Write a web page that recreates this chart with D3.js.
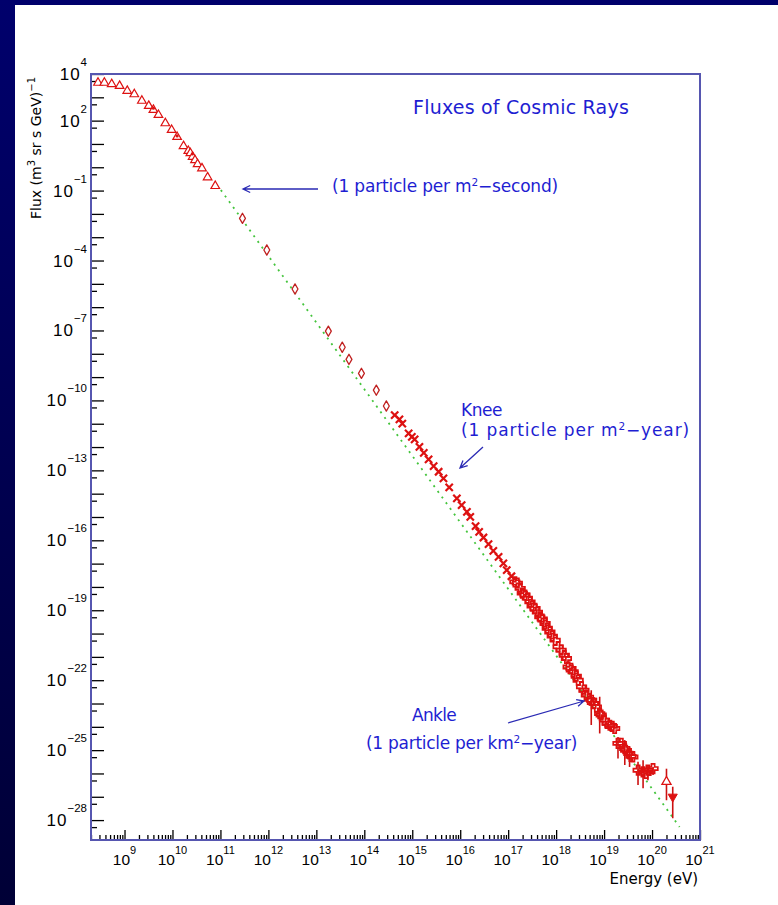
<!DOCTYPE html>
<html>
<head>
<meta charset="utf-8">
<script src="https://cdn.jsdelivr.net/npm/d3@7"></script>
<style>
  html, body { margin: 0; padding: 0; background: #000050; }
  svg { display: block; }
</style>
</head>
<body>
<svg id="chart" width="778" height="905"></svg>
<script>
// Flujo de rayos cósmicos: escala log-log
(function () {
  // --- rangos de los ejes ---
  const energyDomain = [2e8, 1e21];        // eV
  const fluxDomain = [1e4, 1.4e-29];       // (m^2 sr s GeV)^-1

  // --- etiquetas de los ejes (exponentes de 10) ---
  const xLabelExps = [9, 10, 11, 12, 13, 14, 15, 16, 17, 18, 19, 20, 21];
  const yLabelExps = [4, 2, -1, -4, -7, -10, -13, -16, -19, -22, -25, -28];
  const yDecadeExps = d3.range(-28, 5);

  // --- baja energía: triángulos abiertos ---
  const lowE = [2.8e8, 3.8e8, 5.4e8, 7.9e8, 1.14e9, 1.6e9, 2.3e9, 3.2e9, 4.0e9, 5.1e9, 7.1e9,
                9.6e9, 1.25e10, 1.7e10, 2.14e10, 2.36e10, 2.63e10, 2.95e10, 3.34e10, 4.12e10, 5.4e10, 7.8e10];
  const lowF = [4.2e3, 4.2e3, 3.7e3, 3.1e3, 1.9e3, 1.35e3, 710, 430, 290, 175, 77,
                40, 20, 8.1, 5.0, 4.0, 2.8, 2.0, 1.35, 0.9, 0.37, 0.157];
  const lowDotE = [4.0e9, 1.25e10, 2.6e10];
  const lowDotF = [340, 22, 3.7];

  // --- medidas directas: rombos abiertos ---
  const midE = [2.88e11, 9.27e11, 3.59e12, 1.78e13, 3.47e13, 4.79e13, 8.71e13, 1.78e14, 2.88e14];
  const midF = [6.46e-3, 2.82e-4, 6.03e-6, 9.33e-8, 1.91e-8, 5.75e-9, 1.45e-9, 2.75e-10, 5.75e-11];

  // --- región de la rodilla: cruces ---
  const kneeE = [4.3e14, 5.4e14, 6.2e14, 8.4e14, 9.8e14, 1.12e15, 1.41e15, 1.74e15, 2.19e15, 2.79e15,
                 3.55e15, 4.47e15, 5.89e15, 8.51e15, 1.07e16, 1.38e16, 1.62e16, 2.09e16, 2.48e16, 3.05e16,
                 3.89e16, 4.9e16, 6.31e16, 7.94e16, 9.33e16, 1.17e17];
  const kneeF = [2.34e-11, 1.55e-11, 1.02e-11, 3.89e-12, 2.75e-12, 2.14e-12, 1.02e-12, 5.62e-13, 2.95e-13,
                 1.51e-13, 8.7e-14, 4.57e-14, 1.86e-14, 6.3e-15, 3.2e-15, 1.66e-15, 1.02e-15, 4.07e-16, 2.29e-16,
                 1.32e-16, 6.9e-17, 3.55e-17, 1.95e-17, 1.02e-17, 5.25e-18, 2.88e-18];

  // --- región del tobillo: cruces abiertas ---
  const highE = [1.38e17, 1.55e17, 1.78e17, 1.97e17, 2.24e17, 2.51e17, 2.85e17, 3.16e17, 3.63e17, 4.07e17,
                 4.57e17, 5.13e17, 5.89e17, 6.53e17, 7.41e17, 8.3e17, 9.55e17, 1.10e18, 1.27e18, 1.48e18,
                 1.64e18, 1.78e18, 2.04e18, 2.26e18, 2.63e18, 2.88e18, 3.39e18, 3.8e18, 4.27e18, 4.9e18,
                 5.5e18, 6.2e18, 6.9e18, 8.1e18, 8.7e18, 1.02e19, 1.15e19, 1.32e19, 1.48e19, 1.66e19,
                 1.95e19, 2.29e19, 2.69e19, 2.82e19, 3.39e19, 3.63e19, 3.98e19, 5.13e19, 6.46e19, 7.5e19,
                 8.2e19, 1.05e20];
  const highF = [1.66e-18, 1.45e-18, 8.7e-19, 5.4e-19, 4.5e-19, 3.3e-19, 2.3e-19, 1.5e-19, 1.2e-19, 8.3e-20,
                 5.2e-20, 4.2e-20, 2.7e-20, 1.7e-20, 1.17e-20, 7.8e-21, 5.2e-21, 2.7e-21, 1.95e-21, 1.17e-21,
                 8.5e-22, 3.7e-22, 3.2e-22, 2.3e-22, 1.48e-22, 1.0e-22, 5.2e-23, 3.7e-23, 2.3e-23, 1.5e-23,
                 1.38e-23, 1.02e-23, 7.2e-24, 3.7e-24, 3.2e-24, 1.95e-24, 1.4e-24, 1.17e-24, 1.05e-24, 8.5e-25,
                 1.95e-25, 1.95e-25, 1.17e-25, 9.8e-26, 7.2e-26, 5.4e-26, 5.1e-26, 1.38e-26, 1.17e-26, 1.0e-26,
                 1.38e-26, 1.62e-26];

  // --- barras de error (alta energía) ---
  const errE  = [5.4e18, 8.1e18, 1.95e19, 2.7e19, 3.4e19, 5.1e19, 6.5e19, 8.2e19, 1.05e20, 2.0e20, 2.7e20];
  const errHi = [3.7e-23, 1.95e-23, 3.7e-25, 2.7e-25, 1.4e-25, 3.2e-26, 3.7e-26, 2.3e-26, 1.9e-26, 1.6e-26, 2.7e-27];
  const errLo = [1.2e-24, 5.2e-25, 4.4e-26, 2.3e-26, 1.9e-26, 3.2e-27, 2.3e-27, 5.1e-27, 8.5e-27, 7.1e-28, 1.2e-28];

  // --- puntos de máxima energía ---
  const topUpE = [2.0e20],   topUpF = [4.4e-27];
  const topDownE = [2.7e20], topDownF = [1.0e-27];

  // --- ley de potencias de referencia (verde punteada) ---
  const fitE = [1.02e11, 3.75e20];
  const fitF = [0.106, 5.1e-29];

  const svg = d3.select('#chart');
  const W = 778, H = 905;
  const frame = { left: 91, right: 700, top: 74, bottom: 840 };
  const RED = '#dd1111', BLUE = '#1e1ed2', FRAME = '#5656b0';
  const zip = (a, b) => a.map((v, i) => [v, b[i]]);

  // fondo azul con el panel blanco
  const defs = svg.append('defs');
  const grad = defs.append('linearGradient').attr('id', 'bg').attr('x1', 0).attr('x2', 0).attr('y1', 0).attr('y2', 1);
  grad.append('stop').attr('offset', '0%').attr('stop-color', '#00006c');
  grad.append('stop').attr('offset', '100%').attr('stop-color', '#000036');
  svg.append('rect').attr('width', W).attr('height', H).attr('fill', 'url(#bg)');
  svg.append('rect').attr('x', 15).attr('y', 5).attr('width', W - 15).attr('height', H - 5).attr('fill', '#fff');

  const x = d3.scaleLog().domain(energyDomain).range([frame.left, frame.right]);
  const y = d3.scaleLog().domain(fluxDomain).range([frame.top, frame.bottom]);

  // ticks (hacia dentro, estilo ROOT)
  const xMajor = xLabelExps.map(e => Math.pow(10, e));
  const xMinor = x.ticks(100).filter(v => Math.abs(Math.log10(v) - Math.round(Math.log10(v))) > 1e-6);
  const yMajor = yDecadeExps.map(e => Math.pow(10, e));
  const yMinor = yDecadeExps.map(e => 5 * Math.pow(10, e - 1)).filter(v => v > fluxDomain[1]);

  const tickStyle = g => {
    g.select('.domain').remove();
    g.selectAll('line').attr('stroke', '#000').attr('stroke-width', 1.3);
  };
  svg.append('g').attr('transform', `translate(0,${frame.bottom})`)
    .call(d3.axisBottom(x).tickValues(xMinor).tickSize(-5).tickSizeOuter(0).tickFormat('')).call(tickStyle);
  svg.append('g').attr('transform', `translate(0,${frame.bottom})`)
    .call(d3.axisBottom(x).tickValues(xMajor).tickSize(-10).tickSizeOuter(0).tickFormat('')).call(tickStyle);
  svg.append('g').attr('transform', `translate(${frame.left},0)`)
    .call(d3.axisLeft(y).tickValues(yMinor).tickSize(-6).tickSizeOuter(0).tickFormat('')).call(tickStyle);
  svg.append('g').attr('transform', `translate(${frame.left},0)`)
    .call(d3.axisLeft(y).tickValues(yMajor).tickSize(-13).tickSizeOuter(0).tickFormat('')).call(tickStyle);

  const expTxt = e => (e < 0 ? '\u2212' + (-e) : String(e));
  const lblFont = '"Liberation Sans", Arial, sans-serif';

  // etiquetas eje x
  const xl = svg.append('g').attr('font-family', lblFont).attr('fill', '#000');
  xLabelExps.forEach(e => {
    const t = xl.append('text').attr('x', x(Math.pow(10, e))).attr('y', 865)
      .attr('text-anchor', 'middle').attr('font-size', 15.5);
    t.append('tspan').text('10');
    t.append('tspan').attr('dy', -11).attr('font-size', 11).text(expTxt(e));
  });

  // etiquetas eje y
  const yl = svg.append('g').attr('font-family', lblFont).attr('fill', '#000');
  yLabelExps.forEach(e => {
    const t = yl.append('text').attr('x', 87).attr('y', y(Math.pow(10, e)) + 6)
      .attr('text-anchor', 'end').attr('font-size', 17);
    t.append('tspan').attr('letter-spacing', 1).text('10');
    t.append('tspan').attr('dy', -14).attr('font-size', 11.5).text(expTxt(e));
  });

  // títulos de ejes
  const annFont = '"DejaVu Sans", Verdana, sans-serif';
  const yt = svg.append('text').attr('transform', 'translate(41,77) rotate(-90)')
    .attr('text-anchor', 'end').attr('font-family', annFont).attr('font-size', 14).attr('fill', '#000');
  yt.append('tspan').text('Flux (m');
  yt.append('tspan').attr('dy', -6).attr('font-size', 10).text('3');
  yt.append('tspan').attr('dy', 6).text(' sr s GeV)');
  yt.append('tspan').attr('dy', -6).attr('font-size', 10).text('\u22121');

  svg.append('text').attr('x', 698).attr('y', 884).attr('text-anchor', 'end')
    .attr('font-family', annFont).attr('font-size', 15).attr('fill', '#000').text('Energy (eV)');

  // ley de potencias
  const line = d3.line().x(d => x(d[0])).y(d => y(d[1]));
  svg.append('path').datum(zip(fitE, fitF)).attr('d', line)
    .attr('fill', 'none').attr('stroke', '#44c43c').attr('stroke-width', 1.8)
    .attr('stroke-dasharray', '2,5');

  const sym = (type, size) => d3.symbol().type(type).size(size)();
  const plot = svg.append('g');

  // triángulos
  plot.selectAll('path.low').data(zip(lowE, lowF)).join('path')
    .attr('transform', d => `translate(${x(d[0])},${y(d[1])})`)
    .attr('d', sym(d3.symbolTriangle, 32))
    .attr('fill', '#fff').attr('stroke', RED).attr('stroke-width', 1.2);
  plot.selectAll('circle.lowdot').data(zip(lowDotE, lowDotF)).join('circle')
    .attr('cx', d => x(d[0])).attr('cy', d => y(d[1])).attr('r', 1.6).attr('fill', RED);

  // rombos
  plot.selectAll('path.mid').data(zip(midE, midF)).join('path')
    .attr('transform', d => `translate(${x(d[0])},${y(d[1])})`)
    .attr('d', sym(d3.symbolDiamond, 30))
    .attr('fill', '#fff').attr('stroke', '#c02020').attr('stroke-width', 1.3)
    .attr('stroke-linejoin', 'round');

  // barras de error
  plot.selectAll('line.err').data(errE.map((e, i) => [e, errLo[i], errHi[i]])).join('line')
    .attr('x1', d => x(d[0])).attr('x2', d => x(d[0]))
    .attr('y1', d => y(d[1])).attr('y2', d => y(d[2]))
    .attr('stroke', '#cc1111').attr('stroke-width', 1.6);

  // rodilla
  plot.selectAll('path.knee').data(zip(kneeE, kneeF)).join('path')
    .attr('transform', d => `translate(${x(d[0])},${y(d[1])})`)
    .attr('d', sym(d3.symbolTimes, 36))
    .attr('fill', 'none').attr('stroke', RED).attr('stroke-width', 2.2);

  // tobillo
  plot.selectAll('path.high').data(zip(highE, highF)).join('path')
    .attr('transform', d => `translate(${x(d[0])},${y(d[1])})`)
    .attr('d', sym(d3.symbolCross, 50))
    .attr('fill', 'none').attr('stroke', RED).attr('stroke-width', 1.7);

  plot.selectAll('path.topup').data(zip(topUpE, topUpF)).join('path')
    .attr('transform', d => `translate(${x(d[0])},${y(d[1])})`)
    .attr('d', sym(d3.symbolTriangle, 36))
    .attr('fill', '#fff').attr('stroke', RED).attr('stroke-width', 1.3);
  plot.selectAll('path.topdown').data(zip(topDownE, topDownF)).join('path')
    .attr('transform', d => `translate(${x(d[0])},${y(d[1])}) rotate(180)`)
    .attr('d', sym(d3.symbolTriangle, 36))
    .attr('fill', RED).attr('stroke', RED).attr('stroke-width', 1);

  // marco
  svg.append('rect').attr('x', frame.left).attr('y', frame.top)
    .attr('width', frame.right - frame.left).attr('height', frame.bottom - frame.top)
    .attr('fill', 'none').attr('stroke', FRAME).attr('stroke-width', 2);

  // anotaciones
  function spread(t, target) {
    const w = t.node().getComputedTextLength();
    const n = t.text().length;
    if (n > 1) t.style('letter-spacing', ((target - w) / n) + 'px');
  }
  function note(px, py, size, parts, target) {
    const t = svg.append('text').attr('x', px).attr('y', py)
      .attr('font-family', annFont).attr('font-size', size).attr('fill', BLUE);
    let raised = false;
    parts.forEach(p => {
      if (typeof p === 'string') {
        const s = t.append('tspan').text(p);
        if (raised) { s.attr('dy', 6); raised = false; }
      } else {
        t.append('tspan').attr('dy', -6).attr('font-size', size * 0.62).text(p.up);
        raised = true;
      }
    });
    spread(t, target);
    return t;
  }
  function arrow(x1, y1, x2, y2) {
    const a = Math.atan2(y2 - y1, x2 - x1), L = 8, s = 0.45;
    const p = d3.path();
    p.moveTo(x1, y1); p.lineTo(x2, y2);
    p.moveTo(x2 - L * Math.cos(a - s), y2 - L * Math.sin(a - s));
    p.lineTo(x2, y2);
    p.lineTo(x2 - L * Math.cos(a + s), y2 - L * Math.sin(a + s));
    svg.append('path').attr('d', p.toString()).attr('fill', 'none')
      .attr('stroke', '#2a2ab4').attr('stroke-width', 1.3);
  }

  note(413, 114, 19, ['Fluxes of Cosmic Rays'], 216);
  note(332, 192, 17, ['(1 particle per m', { up: '2' }, '\u2212second)'], 226);
  arrow(318, 189, 243, 189);
  note(461, 416, 17, ['Knee'], 41);
  note(461, 436, 17, ['(1 particle per m', { up: '2' }, '\u2212year)'], 229);
  arrow(483, 447, 460, 468);
  note(412, 721, 17, ['Ankle'], 44);
  note(366, 749, 17, ['(1 particle per km', { up: '2' }, '\u2212year)'], 211);
  arrow(508, 723, 584, 701);
})();
</script>
</body>
</html>
